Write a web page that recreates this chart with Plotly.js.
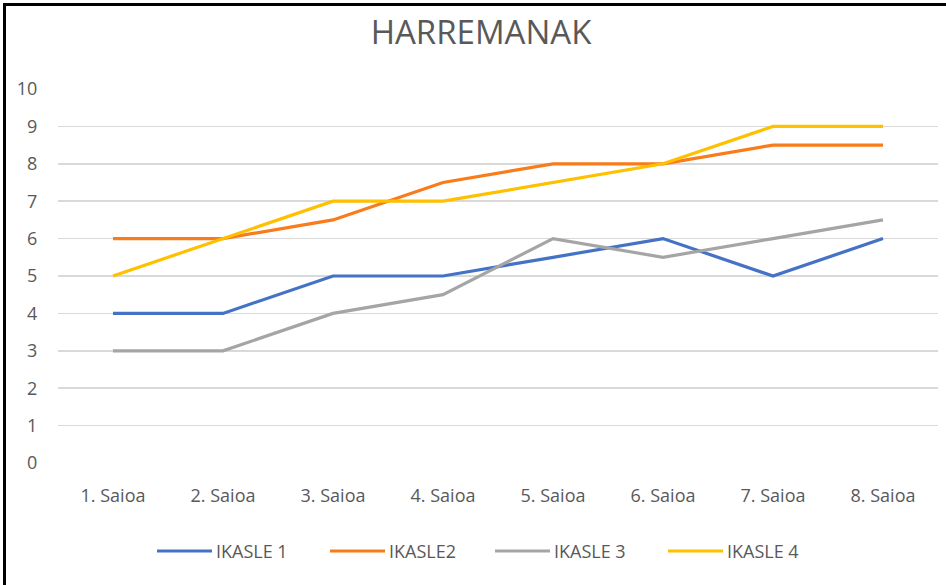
<!DOCTYPE html>
<html>
<head>
<meta charset="utf-8">
<script src="https://cdn.plot.ly/plotly-3.0.1.min.js"></script>
<style>
  html, body { margin: 0; padding: 0; background: #fff; }
  #wrap { position: relative; width: 946px; height: 585px; overflow: hidden; }
  #chart { width: 946px; height: 585px; }
  #frame { position: absolute; left: 3px; top: 3px; width: 946px; height: 590px;
           border-left: 3px solid #000; border-top: 3px solid #000; pointer-events: none; }
</style>
</head>
<body>
<div id="wrap">
  <div id="chart"></div>
  <div id="frame"></div>
</div>
<script>
const categories = ["1. Saioa", "2. Saioa", "3. Saioa", "4. Saioa", "5. Saioa", "6. Saioa", "7. Saioa", "8. Saioa"];
const seriesNames = ["IKASLE 1", "IKASLE2", "IKASLE 3", "IKASLE 4"];
const ikasle1 = [4, 4, 5, 5, 5.5, 6, 5, 6];
const ikasle2 = [6, 6, 6.5, 7.5, 8, 8, 8.5, 8.5];
const ikasle3 = [3, 3, 4, 4.5, 6, 5.5, 6, 6.5];
const ikasle4 = [5, 6, 7, 7, 7.5, 8, 9, 9];
const yTicks = [0, 1, 2, 3, 4, 5, 6, 7, 8, 9, 10];
const colors = ["#4472C4", "#F97B1A", "#A5A5A5", "#FFC000"];

const allSeries = [ikasle1, ikasle2, ikasle3, ikasle4];
const traces = allSeries.map((vals, i) => ({
  type: "scatter",
  mode: "lines",
  x: categories,
  y: vals,
  name: seriesNames[i],
  showlegend: false,
  line: { color: colors[i], width: 3.2 }
}));

// custom legend (long line samples like the original)
const M = { l: 58, r: 8, t: 89, b: 122 };
const W = 946, H = 585;
const pw = W - M.l - M.r, ph = H - M.t - M.b;
const px2x = px => (px - M.l) / pw;
const legendY = (H - M.b - 551) / ph;
const legendStarts = [157, 330, 495, 668];
const lineLen = 55;
const shapes = [], annotations = [];
seriesNames.forEach((name, i) => {
  const x0 = legendStarts[i];
  shapes.push({
    type: "line", xref: "paper", yref: "paper",
    x0: px2x(x0), x1: px2x(x0 + lineLen), y0: legendY, y1: legendY,
    line: { color: colors[i], width: 3.2 }
  });
  annotations.push({
    xref: "paper", yref: "paper", x: px2x(x0 + lineLen + 2), y: legendY,
    xanchor: "left", yanchor: "middle", showarrow: false, text: name,
    font: { family: "'Open Sans', sans-serif", size: 18, color: "#595959" }
  });
});

const font = "'Open Sans', Lato, sans-serif";
const layout = {
  width: W,
  height: H,
  margin: M,
  paper_bgcolor: "#fff",
  plot_bgcolor: "#fff",
  font: { family: font, color: "#595959", size: 18 },
  title: {
    text: "HARREMANAK",
    font: { family: font, size: 33, color: "#595959" },
    x: px2x(481), xanchor: "center",
    y: 1 - 32 / H, yanchor: "middle", xref: "paper"
  },
  xaxis: {
    type: "category",
    showgrid: false,
    zeroline: false,
    showline: false,
    ticks: "outside",
    ticklen: 16,
    tickcolor: "rgba(0,0,0,0)",
    tickfont: { family: font, size: 18, color: "#595959" },
    range: [-0.5, 7.5]
  },
  yaxis: {
    range: [0, 10],
    tickvals: yTicks,
    ticktext: yTicks.map(String),
    showgrid: true,
    gridcolor: "#D9D9D9",
    gridwidth: 1.5,
    zeroline: false,
    showline: false,
    ticks: "outside",
    ticklen: 16,
    tickcolor: "rgba(0,0,0,0)",
    tickfont: { family: font, size: 18, color: "#595959" }
  },
  showlegend: false,
  shapes: shapes,
  annotations: annotations
};

Plotly.newPlot("chart", traces, layout, { displayModeBar: false, staticPlot: true });
</script>
</body>
</html>
